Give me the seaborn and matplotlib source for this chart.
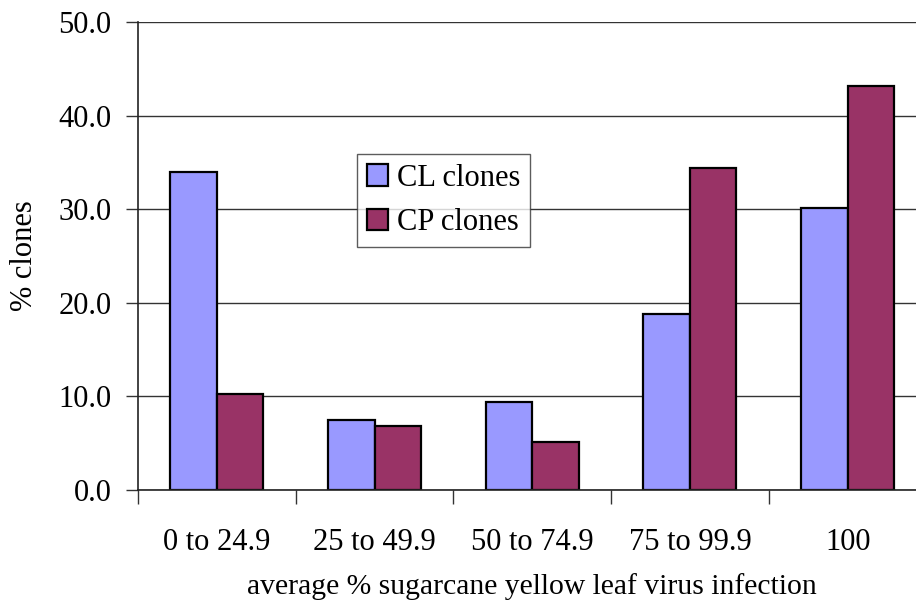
import matplotlib
matplotlib.use("Agg")
import matplotlib.pyplot as plt
import seaborn as sns
import pandas as pd
from matplotlib.ticker import FixedLocator, FormatStrFormatter

categories = ["0 to 24.9", "25 to 49.9", "50 to 74.9", "75 to 99.9", "100"]
cl_values = [34.0, 7.5, 9.4, 18.8, 30.1]
cp_values = [10.3, 6.8, 5.1, 34.4, 43.2]
series_names = ["CL clones", "CP clones"]
colors = ["#9999FF", "#993366"]

df = pd.DataFrame({
    "category": categories * 2,
    "value": cl_values + cp_values,
    "series": [series_names[0]] * len(categories) + [series_names[1]] * len(categories),
})

sns.set_style("white")
plt.rcParams["font.family"] = ["Liberation Serif", "DejaVu Serif"]
plt.rcParams["text.color"] = "black"
plt.rcParams["axes.labelcolor"] = "black"
plt.rcParams["xtick.labelcolor"] = "black"
plt.rcParams["ytick.labelcolor"] = "black"

fig = plt.figure(figsize=(9.16, 6.03), dpi=100)
ax = fig.add_axes([138 / 916, 113 / 603, 788.5 / 916, 468 / 603])

ax.yaxis.grid(True, color="#333333", linewidth=1.0)
ax.set_axisbelow(True)

sns.barplot(data=df, x="category", y="value", hue="series", order=categories,
            hue_order=series_names, palette=colors, width=0.59, gap=0,
            edgecolor="black", linewidth=1.6, saturation=1, ax=ax, legend=True)

ax.set_xlim(-0.5, 4.5)
ax.set_ylim(0, 50)
ax.set_yticks([0, 10, 20, 30, 40, 50])
ax.yaxis.set_major_formatter(FormatStrFormatter("%.1f"))
ax.tick_params(axis="y", which="major", length=9, width=1, color="#333333",
               labelcolor="black", labelsize=22, pad=10, left=True)
ax.tick_params(axis="x", which="major", length=0, labelsize=22, pad=27,
               labelcolor="black")
ax.xaxis.set_minor_locator(FixedLocator([-0.5, 0.5, 1.5, 2.5, 3.5, 4.5]))
ax.tick_params(axis="x", which="minor", length=10, width=1, color="#333333", bottom=True)

for side in ["top", "right"]:
    ax.spines[side].set_visible(False)
ax.spines["left"].set_color("#222222")
ax.spines["bottom"].set_color("#222222")
ax.spines["left"].set_linewidth(1.2)
ax.spines["bottom"].set_linewidth(1.2)

ax.set_xlabel("average % sugarcane yellow leaf virus infection", fontsize=21.3,
              labelpad=12, color="black")
ax.set_ylabel("% clones", fontsize=22, labelpad=14, color="black")

leg = ax.legend(loc="upper left", bbox_to_anchor=(0.2777, 0.718), borderaxespad=0,
                fontsize=22, frameon=True, fancybox=False, edgecolor="#333333",
                handlelength=0.7, handleheight=0.7, handletextpad=0.28,
                borderpad=0.32, labelspacing=0.5)
leg.get_frame().set_linewidth(1.0)
for t in leg.get_texts():
    t.set_color("black")

fig.savefig("out.png", dpi=100)
